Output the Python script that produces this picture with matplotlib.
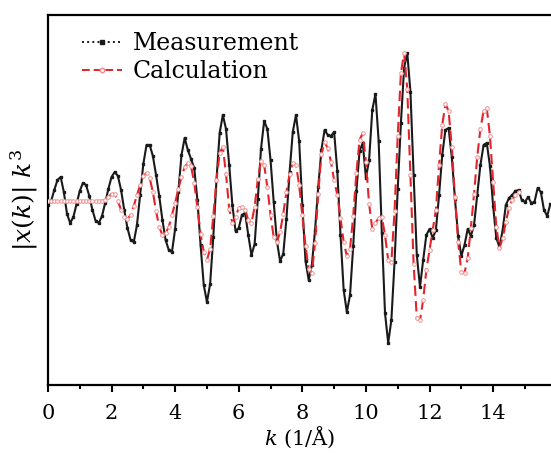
import numpy as np
import matplotlib
matplotlib.use('Agg')
import matplotlib.pyplot as plt
from matplotlib.lines import Line2D
from matplotlib.ticker import MultipleLocator

plt.rcParams['font.family'] = 'DejaVu Serif'
plt.rcParams['mathtext.fontset'] = 'dejavuserif'

# Measurement, k = 0.0 ... 15.8 step 0.1
k_meas = np.round(np.arange(0, 15.81, 0.1), 1)
meas = [
    -5, -1, 10, 20, 23, 8, -14, -23, -17, -4,
    9, 17, 15, 4, -10, -21, -23, -16, -3, 11,
    23, 28, 24, 10, -10, -28, -40, -42, -25, 5,
    36, 55, 55, 44, 25, 4, -20, -40, -50, -52,
    -29, 8, 45, 62, 50, 41, 32, 0, -45, -85,
    -102, -84, -37, 20, 67, 85, 71, 35, -5, -31,
    -28, -15, -13, -35, -55, -44, 1, 51, 79, 71,
    40, -2, -41, -61, -54, -19, 28, 68, 85, 59,
    -5, -61, -80, -65, -30, 13, 50, 70, 65, 64,
    68, 29, -35, -90, -112, -95, -46, 9, 49, 57,
    22, 40, 90, 106, 59, -33, -113, -143, -120, -62,
    11, 77, 132, 147, 108, 25, -55, -87, -60, -35,
    -29, -38, -30, 5, 45, 70, 72, 43, 1, -36,
    -56, -45, -29, -36, -25, 5, 35, 55, 57, 34,
    -6, -38, -47, -30, -5, 2, 5, 9, 10, 0,
    -2, 3, -3, -2, 12, 8, -10, -16, -4,
]

# Calculation, k = 0.0 ... 14.8 step 0.1
k_calc = np.round(np.arange(0, 14.81, 0.1), 1)
calc = [
    -1, -1, -1, -1, -1, -1, -1, -1, -1, -1,
    -1, -1, -1, -1, -1, -1, -1, -1, 0, 3,
    6, 6, -1, -10, -17, -19, -15, -6, 5, 15,
    24, 27, 22, 8, -11, -27, -35, -33, -27, -15,
    -3, 11, 23, 33, 37, 34, 17, -7, -34, -52,
    -60, -49, -16, 20, 47, 53, 26, -9, -23, -17,
    -8, -7, -10, -20, -23, -7, 21, 39, 35, 13,
    -15, -37, -42, -32, -14, 8, 26, 37, 35, 15,
    -15, -46, -69, -73, -43, 6, 46, 58, 52, 38,
    20, 5, -18, -42, -56, -49, -16, 27, 60, 67,
    38, -4, -29, -23, -18, -17, -35, -60, -62, -11,
    64, 127, 147, 111, 25, -64, -118, -120, -100, -70,
    -50, -30, -10, 35, 75, 96, 89, 53, 3, -42,
    -72, -73, -58, -28, 6, 43, 71, 89, 92, 64,
    18, -27, -48, -38, -22, -8, 0, 5, 8,
]

fig = plt.figure(figsize=(5.51, 4.53), dpi=100)
ax = fig.add_axes([0.087, 0.150, 0.913, 0.817])

ax.plot(k_meas, meas, color='#1a1a1a', lw=1.5, marker='s', ms=1.6,
        mec='#1a1a1a', mfc='#1a1a1a', zorder=2)
ax.plot(k_calc, calc, color='#e3242b', lw=1.5, ls=(0, (5, 2.5)),
        marker='o', ms=2.6, mfc='white', mec='#f29090', mew=0.7, zorder=3)

ax.set_xlim(0, 15.82)
ax.set_ylim(-185, 185)
ax.set_yticks([])
ax.xaxis.set_major_locator(MultipleLocator(2))
ax.xaxis.set_minor_locator(MultipleLocator(1))
ax.tick_params(axis='x', which='major', direction='out', length=5, width=1.5,
               labelsize=15, pad=9)
ax.tick_params(axis='x', which='minor', direction='out', length=3, width=1.5)
for s in ['left', 'bottom', 'top']:
    ax.spines[s].set_linewidth(1.6)
ax.spines['right'].set_visible(False)

ax.set_xlabel(r'$k$ (1/Å)', fontsize=15, labelpad=1)
ax.set_ylabel(r'$|x(k)|\ k^3$', fontsize=18, labelpad=6)

handles = [
    Line2D([], [], color='#1a1a1a', ls=':', lw=1.4, marker='s', ms=2.5),
    Line2D([], [], color='#e3242b', ls=(0, (4, 2)), lw=1.4, marker='o', ms=3.2,
           mfc='white', mec='#f08a8a'),
]
ax.legend(handles, ['Measurement', 'Calculation'], loc='upper left',
          bbox_to_anchor=(0.025, 1.01), frameon=False, fontsize=17,
          handlelength=1.7, handletextpad=0.45, labelspacing=0.2)

plt.savefig('out.png', dpi=100)
